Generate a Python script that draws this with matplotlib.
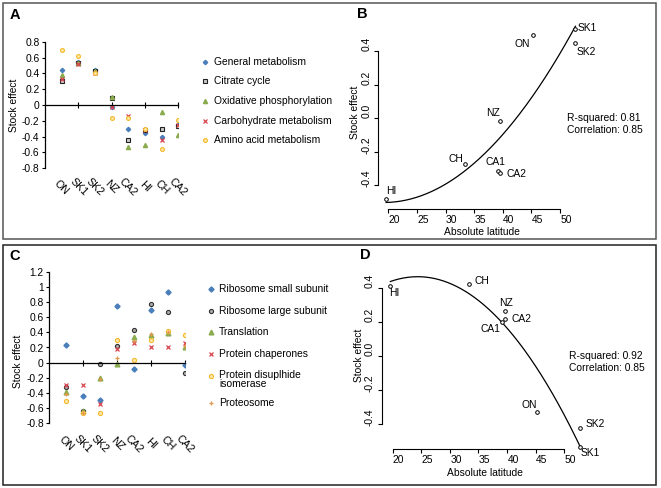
import numpy as np
import matplotlib
matplotlib.use('Agg')
import matplotlib.pyplot as plt
from matplotlib.transforms import ScaledTranslation, blended_transform_factory
from matplotlib.patches import Rectangle

plt.rcParams['font.family'] = ['Liberation Sans', 'DejaVu Sans']

# ---------------- data ----------------
categories = ['ON', 'SK1', 'SK2', 'NZ', 'CA2', 'HI', 'CH', 'CA2']

# Panel A (metabolism)
gen_metabolism = [0.44, 0.54, 0.44, -0.02, -0.30, -0.35, -0.41, -0.25]
citrate_cycle = [0.30, 0.535, 0.425, 0.09, -0.44, -0.32, -0.30, -0.26]
oxidative_phos = [0.38, 0.53, 0.43, 0.097, -0.53, -0.51, -0.09, -0.38]
carbohydrate_met = [0.325, 0.52, 0.40, -0.025, -0.14, -0.31, -0.44, -0.25]
amino_acid_met = [0.70, 0.62, 0.41, -0.16, -0.17, -0.30, -0.55, -0.185]

# Panel C (protein)
ribosome_small = [0.235, -0.44, -0.49, 0.75, -0.09, 0.70, 0.93, -0.035]
ribosome_large = [-0.325, -0.64, -0.02, 0.215, 0.43, 0.78, 0.67, -0.14]
translation = [-0.39, -0.64, -0.20, -0.02, 0.34, 0.365, 0.39, 0.21]
chaperones = [-0.29, -0.30, -0.54, 0.18, 0.26, 0.20, 0.21, 0.255]
disulphide_isomerase = [-0.51, -0.66, -0.66, 0.30, 0.04, 0.30, 0.42, 0.37]
proteosome = [-0.42, -0.66, -0.22, 0.06, 0.29, 0.38, 0.41, 0.22]

# Panels B and D (stock effect vs absolute latitude)
sites = ['ON', 'SK1', 'SK2', 'NZ', 'CA1', 'CA2', 'CH', 'HI']
latitude = [45.3, 52.7, 52.7, 39.6, 39.1, 39.6, 33.4, 19.6]
effect_B = [0.50, 0.531, 0.448, -0.014, -0.316, -0.325, -0.275, -0.484]
effect_D = [-0.332, -0.535, -0.427, 0.265, 0.202, 0.218, 0.423, 0.413]
stats_B = ['R-squared: 0.81', 'Correlation: 0.85']
stats_D = ['R-squared: 0.92', 'Correlation: 0.85']

# ---------------- figure ----------------
W, H = 661, 488
fig = plt.figure(figsize=(W / 100, H / 100), dpi=100)
FS = 7.4


def add_ax(l, t, r, b):
    return fig.add_axes([l / W, 1 - b / H, (r - l) / W, (b - t) / H])


ov = fig.add_axes([0, 0, 1, 1])
ov.set_xlim(0, W)
ov.set_ylim(H, 0)
ov.axis('off')
ov.patch.set_visible(False)

# frames
ov.add_patch(Rectangle((3, 3), 653, 235.5, fill=False, lw=1.1, ec='#555555'))
ov.add_patch(Rectangle((3, 244.5), 653, 240.5, fill=False, lw=1.1, ec='#222222'))

# panel letters
for (x, y, s) in [(15, 15, 'A'), (362, 13.5, 'B'), (15, 256.5, 'C'), (365, 255, 'D')]:
    ov.text(x, y, s, fontsize=10.5, fontweight='bold', ha='center', va='center')


def category_panel(ax, series, ylim, yticks, label_y):
    x = np.arange(1, len(categories) + 1)
    for vals, st in series:
        ax.plot(x, vals, ls='none', **st)
    ax.set_xlim(0, 8)
    ax.set_ylim(*ylim)
    for s in ['top', 'right']:
        ax.spines[s].set_visible(False)
    ax.spines['bottom'].set_position(('data', 0))
    for s in ['bottom', 'left']:
        ax.spines[s].set_linewidth(0.9)
    ax.set_xticks([2, 4, 6, 8])
    ax.set_xticklabels([])
    ax.tick_params(axis='x', direction='inout', length=5, width=0.8)
    ax.set_yticks(yticks)
    ax.set_yticklabels(['{:g}'.format(round(v, 1) + 0.0) for v in yticks])
    ax.tick_params(axis='y', direction='out', length=2.5, width=0.8, labelsize=FS, pad=1.5)
    tr = blended_transform_factory(ax.transData, ax.transAxes)
    for i, c in enumerate(categories):
        ax.text(i + 1, label_y, c, transform=tr, rotation=-45, ha='center', va='center',
                fontsize=FS + 0.3)
    ax.patch.set_visible(False)


blue, black, green, red, yellow, orange = '#4a7ebb', '#222222', '#8aac4f', '#d9434c', '#f5b82e', '#e3954a'

styles_A = [
    dict(marker='D', ms=2.2, mfc=blue, mec=blue),
    dict(marker='s', ms=2.6, mfc='#cccccc', mec=black, mew=0.8),
    dict(marker='^', ms=3.0, mfc=green, mec=green),
    dict(marker='x', ms=2.6, mec=red, mew=0.9),
    dict(marker='o', ms=2.8, mfc='#fde9a6', mec=yellow, mew=0.8),
]
labels_A = ['General metabolism', 'Citrate cycle', 'Oxidative phosphorylation',
            'Carbohydrate metabolism', 'Amino acid metabolism']
series_A = [gen_metabolism, citrate_cycle, oxidative_phos, carbohydrate_met, amino_acid_met]

axA = add_ax(45, 41.7, 178.3, 168.3)
category_panel(axA, list(zip(series_A, styles_A)), (-0.8, 0.8),
               np.round(np.arange(-0.8, 0.81, 0.2), 1), -0.148)
axA.set_ylabel('Stock effect', fontsize=FS)
axA.yaxis.set_label_coords((19 - 45) / 133.3, (168.3 - 105) / 126.6)

for i, (lab, st) in enumerate(zip(labels_A, styles_A)):
    y = [61.7, 81, 100.7, 120.7, 140][i]
    ov.plot([205], [y], ls='none', **st)
    ov.text(214, y, lab, fontsize=FS, va='center', ha='left')

styles_C = [
    dict(marker='D', ms=2.6, mfc=blue, mec=blue),
    dict(marker='o', ms=3.0, mfc='#aaaaaa', mec='#333333', mew=0.8),
    dict(marker='^', ms=3.4, mfc=green, mec=green),
    dict(marker='x', ms=2.8, mec=red, mew=0.9),
    dict(marker='o', ms=3.0, mfc='#fde9a6', mec=yellow, mew=0.8),
    dict(marker='+', ms=3.2, mec=orange, mew=0.9),
]
labels_C = ['Ribosome small subunit', 'Ribosome large subunit', 'Translation',
            'Protein chaperones', 'Protein disuplhide\nisomerase', 'Proteosome']
series_C = [ribosome_small, ribosome_large, translation, chaperones,
            disulphide_isomerase, proteosome]

axC = add_ax(49.3, 271.7, 184.5, 423.3)
category_panel(axC, list(zip(series_C, styles_C)), (-0.8, 1.2),
               np.round(np.arange(-0.8, 1.21, 0.2), 1), -0.135)
axC.set_ylabel('Stock effect', fontsize=FS)
axC.yaxis.set_label_coords((23 - 49.3) / 135.2, (423.3 - 361.7) / 151.6)

for i, (lab, st) in enumerate(zip(labels_C, styles_C)):
    y = [289.3, 311, 332.3, 353.7, 375.5, 403.3][i]
    ov.plot([210.7], [y], ls='none', **st)
    if '\n' in lab:
        ov.text(219, y - 5.5, lab, fontsize=FS, va='top', ha='left', linespacing=0.82)
    else:
        ov.text(219, y, lab, fontsize=FS, va='center', ha='left')


def latitude_panel(ax, eff, xlim, ylim, label_specs, stats, stats_xy):
    lat = np.array(latitude)
    e = np.array(eff)
    coef = np.polyfit(lat, e, 2)
    xs = np.linspace(lat.min(), lat.max(), 300)
    ax.plot(xs, np.polyval(coef, xs), color='black', lw=0.9)
    ax.plot(lat, e, ls='none', marker='o', ms=2.6, mfc='white', mec='black', mew=0.7)
    for name, (dx, dy, ha) in label_specs.items():
        k = sites.index(name)
        ax.annotate(name, (lat[k], e[k]), xytext=(dx, dy), textcoords='offset pixels',
                    ha=ha, va='center', fontsize=FS)
    ax.set_xlim(*xlim)
    ax.set_ylim(*ylim)
    for s in ['top', 'right']:
        ax.spines[s].set_visible(False)
    for s in ['bottom', 'left']:
        ax.spines[s].set_linewidth(0.8)
    ax.spines['bottom'].set_bounds(20, 50)
    ax.spines['left'].set_bounds(-0.4, 0.4)
    ax.set_xticks(np.arange(20, 51, 5))
    ax.set_yticks([-0.4, -0.2, 0.0, 0.2, 0.4])
    ax.set_yticklabels(['-0.4', '-0.2', '0.0', '0.2', '0.4'])
    ax.tick_params(axis='both', length=3, width=0.8, labelsize=FS)
    ax.tick_params(axis='x', pad=1.0)
    ax.tick_params(axis='y', pad=2.0, labelrotation=90)
    for lb in ax.get_yticklabels():
        lb.set_va('center')
        lb.set_transform(lb.get_transform() + ScaledTranslation(0, 7 / 100, fig.dpi_scale_trans))
    for lb in ax.get_xticklabels():
        lb.set_transform(lb.get_transform() + ScaledTranslation(6 / 100, 0, fig.dpi_scale_trans))
    ax.set_xlabel('Absolute latitude', fontsize=FS)
    ax.set_ylabel('Stock effect', fontsize=FS)
    ov.text(stats_xy[0], stats_xy[1], stats[0], fontsize=FS, ha='left', va='center')
    ov.text(stats_xy[0], stats_xy[1] + 11.7, stats[1], fontsize=FS, ha='left', va='center')
    ax.patch.set_visible(False)


axB = add_ax(378.3, 19.6, 582.6, 209.3)
labels_B = {'SK1': (2.5, 1, 'left'), 'SK2': (1, -8.4, 'left'), 'ON': (-2.7, -9, 'right'),
            'NZ': (-0.7, 7.4, 'right'), 'CA1': (-2.2, 9, 'center'), 'CA2': (5.7, -1.3, 'left'),
            'CH': (-1.7, 5, 'right'), 'HI': (0, 8.6, 'left')}
latitude_panel(axB, effect_B, (18.23, 53.96), (-0.543, 0.589), labels_B, stats_B, (567.3, 118.3))
axB.yaxis.set_label_coords((360 - 378.3) / 204.3, 0.51)
axB.xaxis.set_label_coords(0.508, -0.094)

axD = add_ax(381.7, 269.6, 587.6, 449.3)
labels_D = {'HI': (-1.7, -7.3, 'left'), 'CH': (5, 3.6, 'left'), 'NZ': (0.7, 7.7, 'center'),
            'CA2': (7, 0, 'left'), 'CA1': (-1.7, -7.6, 'right'), 'ON': (-0.6, 7.3, 'right'),
            'SK2': (6, 4, 'left'), 'SK1': (1, -6.6, 'left')}
latitude_panel(axD, effect_D, (18.08, 54.07), (-0.5504, 0.5097), labels_D, stats_D, (568.7, 356))
axD.yaxis.set_label_coords((363.5 - 381.7) / 205.9, 0.525)
axD.xaxis.set_label_coords(0.502, -0.106)

fig.savefig('out.png', dpi=100)
